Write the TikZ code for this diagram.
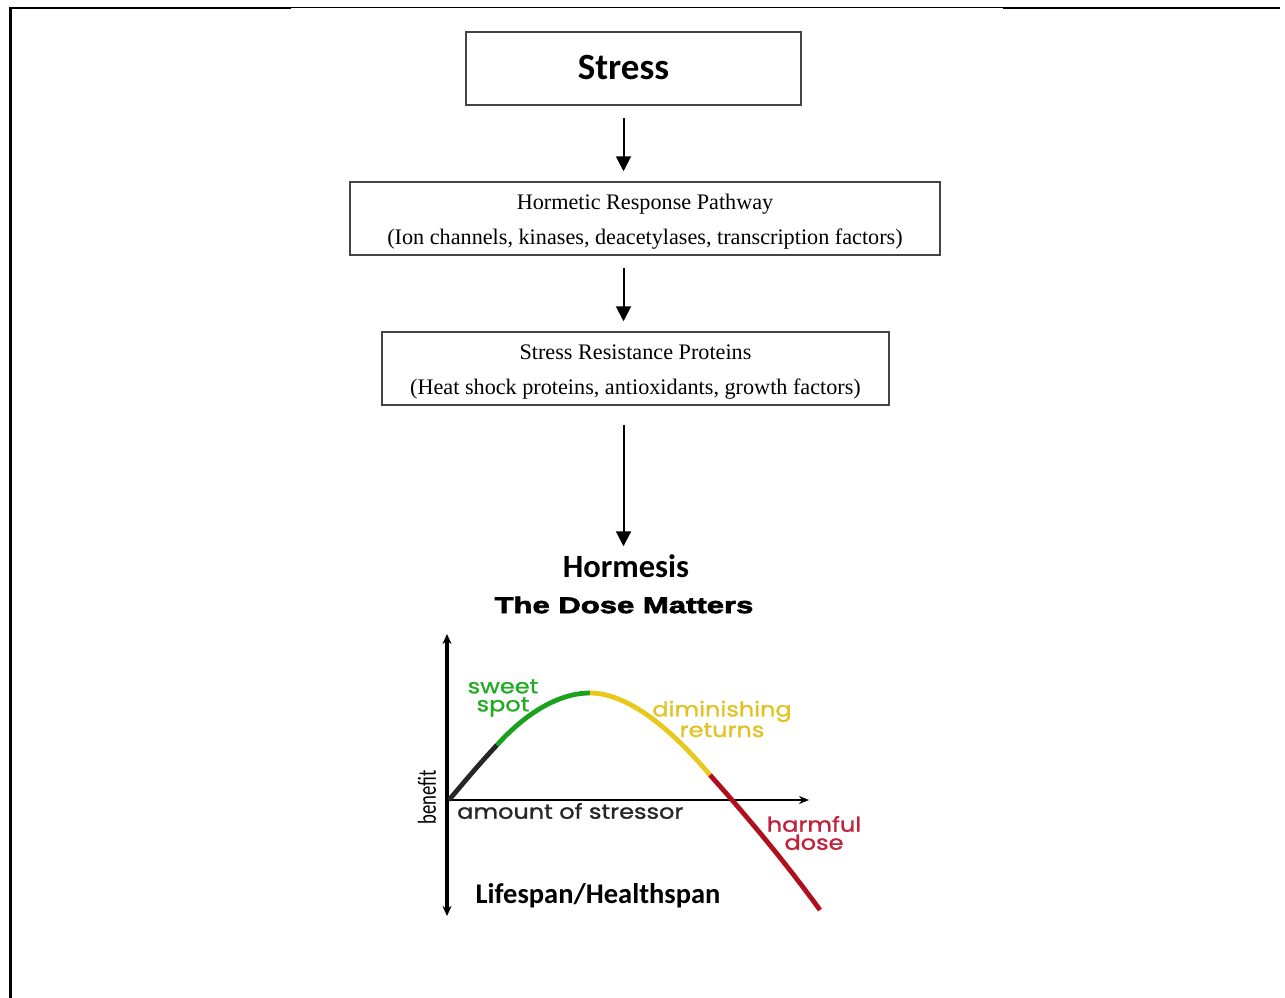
\documentclass[tikz,border=0pt]{standalone}
\usepackage{fontspec}
\usetikzlibrary{arrows.meta}
\setmainfont{Liberation Serif}
\newfontfamily\calfont{Carlito}
\newfontfamily\narrowcal[FakeStretch=0.72]{Carlito}
\newfontfamily\blackfont[FakeStretch=1.38,BoldFeatures={FakeStretch=1.38,FakeBold=3}]{Liberation Sans}
\newfontfamily\geofont[FakeStretch=1.17,FakeBold=1.2]{Poppins}
\definecolor{boxgray}{HTML}{444444}
\definecolor{cgreen}{HTML}{1CA11C}
\definecolor{cyellow}{HTML}{E8C81A}
\definecolor{cred}{HTML}{B0101E}
\definecolor{lgreen}{HTML}{22AA22}
\definecolor{lyellow}{HTML}{E2C222}
\definecolor{lred}{HTML}{C0203A}
\begin{document}
\begin{tikzpicture}[x=1pt,y=-1pt,
  boxnode/.style={draw=boxgray,line width=1.5pt,inner sep=0pt,anchor=center},
  serif/.style={font=\fontsize{22.2}{35}\selectfont,align=center},
  arr/.style={line width=2pt,-{Triangle[width=15pt,length=15pt]}},
  axis/.style={line width=3.2pt},
  curve/.style={line width=4.8pt},
  lab/.style={font=\geofont\fontsize{20.5}{18}\selectfont,align=center,inner sep=0pt},
  frame/.style={line width=2.4pt}
]
\useasboundingbox (0,0) rectangle (1285,998);
% frame
\draw[frame] (10.3,998) -- (10.3,7.8) -- (291,7.8);
\draw[line width=1.1pt] (291,7.2) -- (1003,7.2);
\draw[frame] (1003,7.8) -- (1280,7.8);

% boxes
\node[boxnode,minimum width=335pt,minimum height=73pt] (stressbox) at (633.5,68.5) {};
\node[font=\calfont\bfseries\fontsize{37}{40}\selectfont,inner sep=0pt] (stresstext) at (623.5,68) {Stress};
\node[boxnode,minimum width=590pt,minimum height=73pt] (pathbox) at (645,218.5) {};
\node[serif,inner sep=0pt] (pathtext) at (645,221.5) {Hormetic Response Pathway\\(Ion channels, kinases, deacetylases, transcription factors)};
\node[boxnode,minimum width=507pt,minimum height=73pt] (protbox) at (635.5,368.5) {};
\node[serif,inner sep=0pt] (prottext) at (635.5,372) {Stress Resistance Proteins\\(Heat shock proteins, antioxidants, growth factors)};

\node[font=\calfont\bfseries\fontsize{32.5}{36}\selectfont,inner sep=0pt] (hormesis) at (626,566) {Hormesis};
\node[font=\blackfont\bfseries\fontsize{22.5}{26}\selectfont,inner sep=0pt] (dose) at (624,605) {The Dose Matters};

% arrows
\draw[arr,shorten <=12pt,shorten >=10pt] (stresstext.center |- stressbox.south) -- (stresstext.center |- pathbox.north);
\draw[arr,shorten <=12pt,shorten >=10pt] (stresstext.center |- pathbox.south) -- (stresstext.center |- protbox.north);
\draw[arr,shorten <=19pt,shorten >=8pt] (stresstext.center |- protbox.south) -- (stresstext.center |- hormesis.north);

% graph
\coordinate (origin) at (447,800);
\coordinate (ytop) at (447,634);
\coordinate (ybot) at (447,916);
\coordinate (xend) at (809,800);
\draw[axis,{Stealth[length=10pt,width=9pt]}-{Stealth[length=10pt,width=9pt]}] (ytop) -- (ybot);
\draw[line width=2.2pt,-{Stealth[length=10pt,width=8pt]}] (origin) -- (xend);

\coordinate (c0) at (449,800);
\coordinate (c1) at (497,745);
\coordinate (c2) at (590,693);
\coordinate (c3) at (710,775);
\coordinate (c4) at (820,910);
\draw[curve,black!85] (c0) .. controls (465,781) and (481,762) .. (c1);
\draw[curve,cgreen] (c1) .. controls (525,714) and (558,693) .. (c2);
\draw[curve,cyellow] (c2) .. controls (632,693) and (678,737) .. (c3);
\draw[curve,cred] (c3) .. controls (752,822) and (788,866) .. (c4);

\node[lab,text=lgreen] (sweet) at (503,698) {sweet\\spot};
\node[lab,text=lyellow] (dimin) at (722,719) {diminishing\\returns};
\node[lab,text=lred] (harm) at (814,833) {harmful\\dose};
\node[lab,text=black!85,anchor=west] (amount) at (457,811) {amount of stressor};
\node[font=\narrowcal\fontsize{26}{28}\selectfont,rotate=90,inner sep=0pt] (benefit) at (427,797) {benefit};
\node[font=\calfont\bfseries\fontsize{28.5}{30}\selectfont,inner sep=0pt] (life) at (598,896) {Lifespan/Healthspan};
\end{tikzpicture}
\end{document}
